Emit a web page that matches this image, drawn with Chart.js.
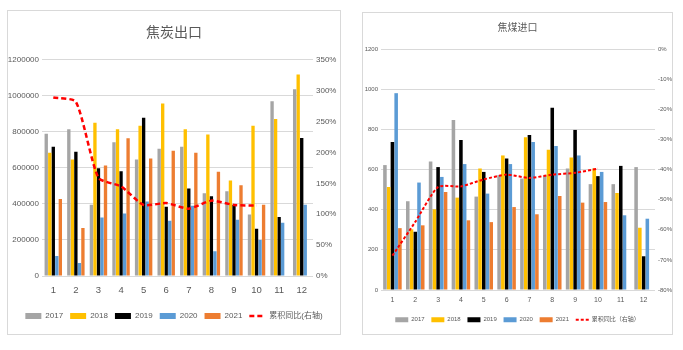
<!DOCTYPE html>
<html>
<head>
<meta charset="utf-8">
<script src="https://cdn.jsdelivr.net/npm/chart.js@4"></script>
<style>
body{margin:0;background:#fff;width:683px;height:350px;position:relative;overflow:hidden}
.box{position:absolute;border:1px solid #d9d9d9;background:#fff}
#boxCoke{left:7px;top:10px;width:332px;height:323px}
#boxCoal{left:362px;top:12px;width:309px;height:321px}
canvas{position:absolute;left:0;top:0}
</style>
</head>
<body>
<div class="box" id="boxCoke"><canvas id="cokeExportChart" width="332" height="323" style="width:332px;height:323px"></canvas></div>
<div class="box" id="boxCoal"><canvas id="coalImportChart" width="309" height="321" style="width:309px;height:321px"></canvas></div>
<script>
// months on the x axis
const months = ['1', '2', '3', '4', '5', '6', '7', '8', '9', '10', '11', '12'];
const years = ['2017', '2018', '2019', '2020', '2021'];
const yoyLabel1 = '累积同比(右轴)';
const yoyLabel2 = '累积同比（右轴）';

// 焦炭出口 (tons)
const coke2017 = [790000, 814000, 396000, 743000, 646000, 706000, 717000, 459000, 470000, 342000, 970000, 1037000];
const coke2018 = [684000, 646000, 851000, 814000, 834000, 958000, 814000, 786000, 530000, 834000, 871000, 1119000];
const coke2019 = [717000, 689000, 598000, 581000, 879000, 385000, 485000, 442000, 396000, 262000, 327000, 766000];
const coke2020 = [111000, 72000, 325000, 347000, 414000, 307000, 390000, 137000, 312000, 200000, 295000, 396000];
const coke2021 = [427000, 266000, 613000, 764000, 652000, 695000, 684000, 578000, 504000, 396000, null, null];
const cokeYoy = [289, 282, 159, 145, 115, 118, 109, 122, 115, 114, null, null];

// 焦煤进口
const coal2017 = [622, 442, 640, 847, 465, 572, 555, 570, 605, 527, 527, 612];
const coal2018 = [513, 302, 402, 460, 605, 670, 760, 698, 660, 605, 483, 310];
const coal2019 = [737, 290, 612, 747, 588, 655, 772, 907, 797, 567, 618, 168];
const coal2020 = [980, 535, 563, 627, 480, 627, 737, 717, 670, 588, 372, 355];
const coal2021 = [308, 322, 488, 347, 338, 413, 377, 468, 435, 438, null, null];
const coalYoy = [-68.6, -57.4, -45.8, -45.6, -43.3, -41.7, -42.8, -41.7, -41.1, -39.7, null, null];

const barColors = ['#A5A5A5', '#FFC000', '#000000', '#5B9BD5', '#ED7D31'];
const tickColor = '#595959';
const narrow = "'Liberation Sans Narrow', 'Liberation Sans', 'Noto Sans CJK SC'";

function legendItems(chart) {
    const items = Chart.defaults.plugins.legend.labels.generateLabels(chart);
    items.forEach(it => {
        const ds = chart.data.datasets[it.datasetIndex];
        if (ds.type === 'line') {
            it.pointStyle = 'line';
            it.strokeStyle = ds.borderColor;
            it.lineWidth = ds.borderWidth;
            it.lineDash = ds.borderDash;
        } else {
            it.pointStyle = 'rect';
            it.lineWidth = 0;
        }
    });
    return items;
}

function makeChart(id, series, yoy, yoyLabel, cfg) {
    const datasets = series.map((data, i) => ({
        type: 'bar',
        label: years[i],
        data: data,
        backgroundColor: barColors[i],
        borderWidth: 0,
        categoryPercentage: cfg.catPct,
        barPercentage: 0.95,
        yAxisID: 'y',
        order: 1
    }));
    datasets.push({
        type: 'line',
        label: yoyLabel,
        data: yoy,
        borderColor: '#FF0000',
        borderWidth: cfg.lineWidth,
        borderDash: cfg.dash,
        pointRadius: 0,
        tension: 0.2,
        fill: false,
        yAxisID: 'y1',
        order: 0
    });

    return new Chart(document.getElementById(id).getContext('2d'), {
        data: { labels: months, datasets: datasets },
        options: {
            responsive: false,
            animation: false,
            layout: { padding: { left: 0, right: 0, top: 0, bottom: cfg.bottomPad } },
            plugins: {
                title: {
                    display: true,
                    text: cfg.title,
                    color: tickColor,
                    font: { family: "'Noto Sans CJK SC'", size: cfg.titleSize, weight: 'normal' },
                    padding: cfg.titlePad
                },
                legend: {
                    position: 'bottom',
                    labels: {
                        usePointStyle: true,
                        pointStyleWidth: cfg.boxW,
                        boxHeight: cfg.boxH,
                        padding: cfg.legendPad,
                        color: tickColor,
                        font: { family: narrow, size: cfg.legendSize },
                        sort: (a, b) => a.datasetIndex - b.datasetIndex,
                        generateLabels: legendItems
                    }
                },
                tooltip: { enabled: false }
            },
            scales: {
                x: {
                    grid: { display: false, drawTicks: false },
                    border: { display: false },
                    ticks: { color: tickColor, padding: cfg.xPad, font: { family: narrow, size: cfg.xSize } },
                    afterFit: s => { s.height = cfg.xH; }
                },
                y: {
                    position: 'left',
                    min: cfg.yMin, max: cfg.yMax,
                    ticks: { stepSize: cfg.yStep, color: tickColor, padding: cfg.yPad, font: { family: narrow, size: cfg.ySize }, callback: v => String(v) },
                    grid: { color: '#d9d9d9', drawTicks: false },
                    border: { display: false },
                    afterFit: s => { s.width = cfg.yW; }
                },
                y1: {
                    position: 'right',
                    min: cfg.y1Min, max: cfg.y1Max,
                    ticks: { stepSize: cfg.y1Step, color: tickColor, padding: cfg.y1Pad, font: { family: narrow, size: cfg.ySize }, callback: v => v + '%' },
                    grid: { display: false, drawTicks: false },
                    border: { display: false },
                    afterFit: s => { s.width = cfg.y1W; }
                }
            }
        }
    });
}

makeChart('cokeExportChart', [coke2017, coke2018, coke2019, coke2020, coke2021], cokeYoy, yoyLabel1, {
    title: '焦炭出口', titleSize: 14, titlePad: { top: 12, bottom: 20 },
    catPct: 0.78, lineWidth: 2.5, dash: [5, 3],
    boxW: 16, boxH: 6, legendPad: 7, legendSize: 8, bottomPad: 4,
    xSize: 9.5, ySize: 8, xPad: 9, xH: 29,
    yMin: 0, yMax: 1200000, yStep: 200000, yPad: 3, yW: 34,
    y1Min: 0, y1Max: 350, y1Step: 50, y1Pad: 3, y1W: 27
});

makeChart('coalImportChart', [coal2017, coal2018, coal2019, coal2020, coal2021], coalYoy, yoyLabel2, {
    title: '焦煤进口', titleSize: 10, titlePad: { top: 8, bottom: 16 },
    catPct: 0.82, lineWidth: 2, dash: [3, 2],
    boxW: 13, boxH: 5, legendPad: 6.75, legendSize: 6, bottomPad: 1.25,
    xSize: 7, ySize: 6, xPad: 6, xH: 20,
    yMin: 0, yMax: 1200, yStep: 200, yPad: 3, yW: 18,
    y1Min: -80, y1Max: 0, y1Step: 10, y1Pad: 3, y1W: 17
});
</script>
</body>
</html>
